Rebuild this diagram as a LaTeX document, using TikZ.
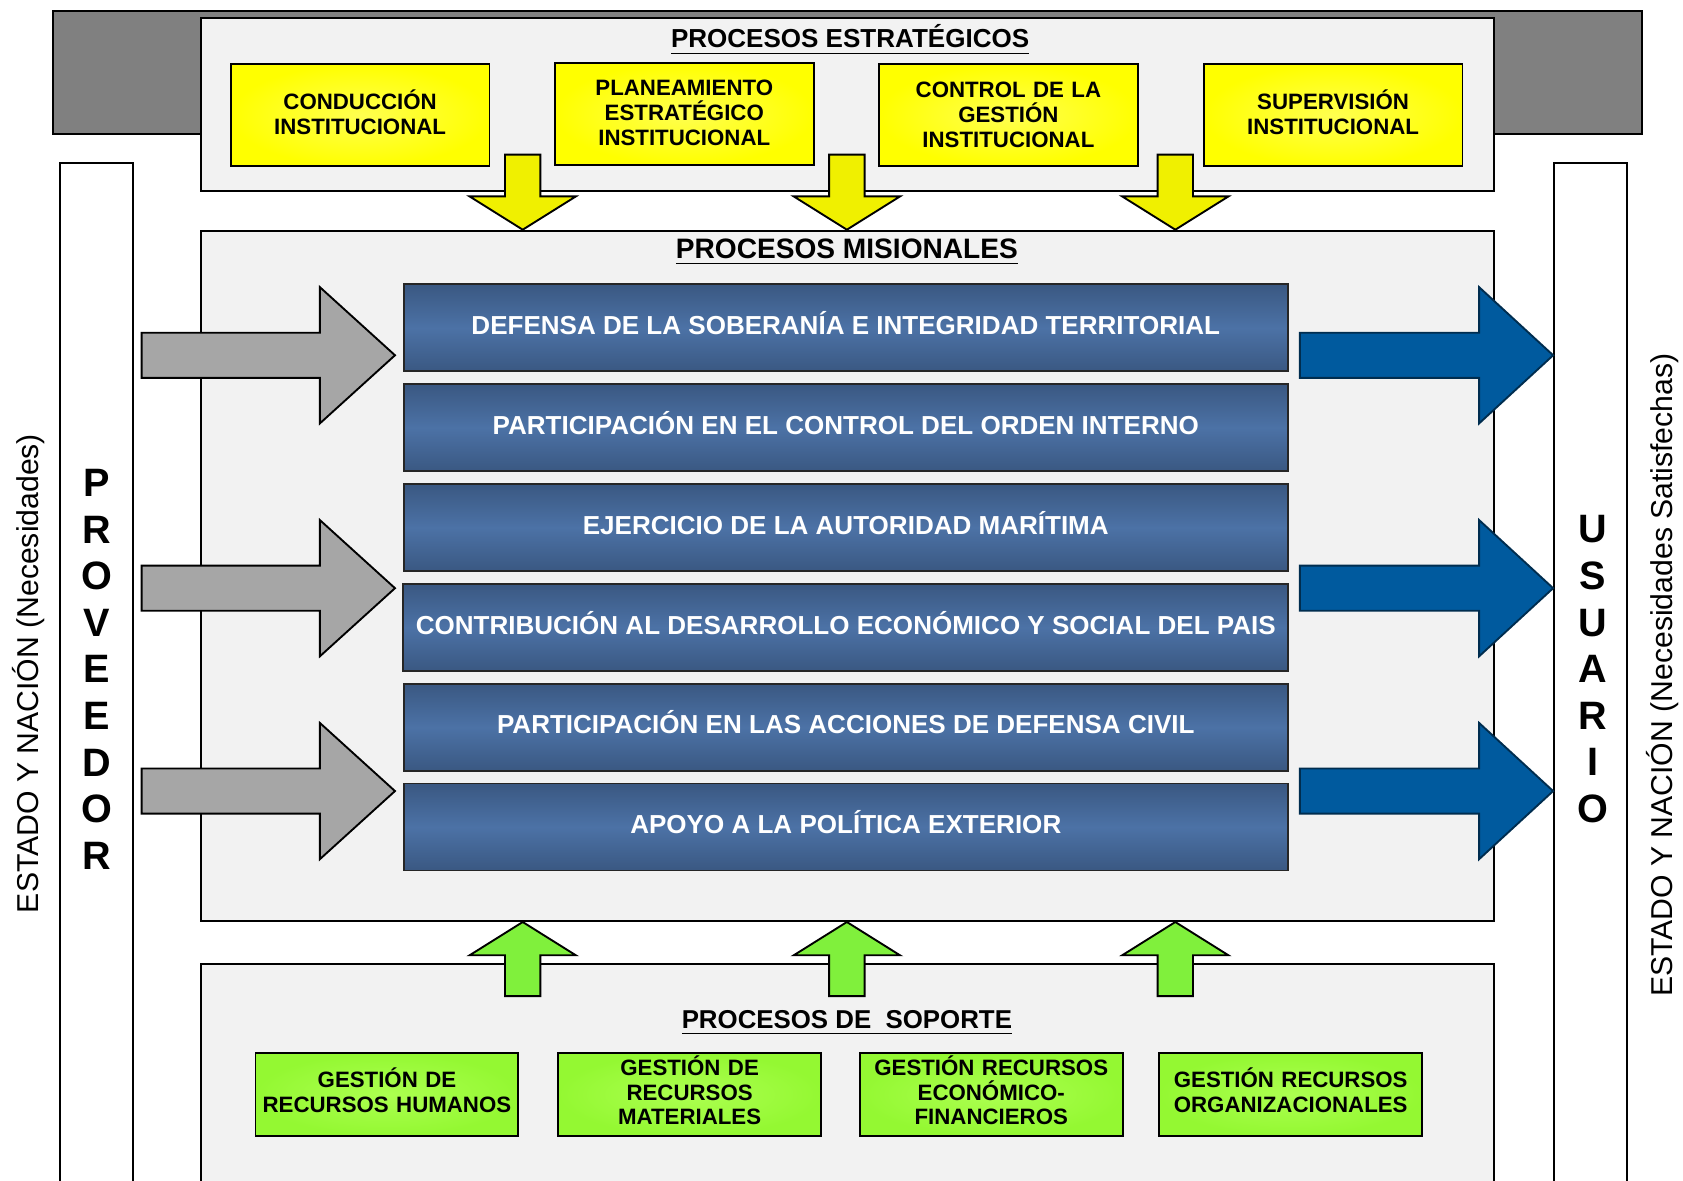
\documentclass[tikz,border=0pt]{standalone}
\usepackage{fontspec}
\setmainfont{Liberation Sans}
\definecolor{banda}{RGB}{128,128,128}
\definecolor{fondo}{RGB}{242,242,242}
\definecolor{amarillo}{RGB}{255,255,0}
\definecolor{amarilloclaro}{RGB}{255,255,80}
\definecolor{flechaam}{RGB}{240,240,0}
\definecolor{gris}{RGB}{166,166,166}
\definecolor{azul}{RGB}{0,90,158}
\definecolor{barraosc}{RGB}{58,88,130}
\definecolor{barraclara}{RGB}{76,114,166}
\definecolor{verde}{RGB}{148,248,50}
\definecolor{verdeclaro}{RGB}{172,255,80}
\definecolor{flechaver}{RGB}{128,240,60}
\begin{document}
\begin{tikzpicture}[x=1cm,y=-1cm,
  outline/.style={draw=#1,line width=0.5pt},
  caja/.style={outline=black,minimum width=2.41cm,minimum height=0.95cm,inner sep=0pt,text width=2.4cm,align=center,text height=3.65pt,font=\fontsize{5.9}{6.65}\selectfont\bfseries},
  estrat/.style={caja,inner color=amarilloclaro,outer color=amarillo},
  soporte/.style={caja,minimum width=2.45cm,minimum height=0.77cm,text height=3.2pt,font=\fontsize{5.9}{6.55}\selectfont\bfseries,inner color=verdeclaro,outer color=verde},
  mision/.style={outline=black!85,top color=barraosc,bottom color=barraosc,middle color=barraclara,minimum width=8.24cm,minimum height=0.81cm,text height=3.6pt,text depth=0pt,text=white,font=\fontsize{6.9}{8}\selectfont\bfseries},
  titulo/.style={font=\fontsize{#1}{8}\selectfont\bfseries},
  letras/.style={align=center,font=\fontsize{10.5}{12.35}\selectfont\bfseries},
  lateral/.style={rotate=90,font=\fontsize{8}{9}\selectfont}]
\useasboundingbox (0,0) rectangle (15.68,11);
% fondo
\fill[fill=banda,outline=black] (0.49,0.10) rectangle (15.30,1.25);
\fill[fill=white,outline=black] (0.56,1.52) rectangle (1.24,11.2);
\fill[fill=white,outline=black] (14.48,1.52) rectangle (15.16,11.2);
\fill[fill=fondo,outline=black] (1.87,0.17) rectangle (13.92,1.78);
\fill[fill=fondo,outline=black] (1.87,2.15) rectangle (13.92,8.58);
\fill[fill=fondo,outline=black] (1.87,8.98) rectangle (13.92,11.2);
% titulos
\node[titulo=6.9] (tEst) at (7.92,0.375) {\underline{PROCESOS ESTRATÉGICOS}};
\node[titulo=7.45] (tMis) at (7.89,2.35) {\underline{PROCESOS MISIONALES}};
\node[titulo=6.85] (tSop) at (7.89,9.53) {\underline{PROCESOS DE\ \ SOPORTE}};
% estrategicos
\node[estrat] (cond) at (3.355,1.075) {CONDUCCIÓN\\INSTITUCIONAL};
\node[estrat] (plan) at (6.375,1.06) {PLANEAMIENTO\\ESTRATÉGICO\\INSTITUCIONAL};
\node[estrat] (ctrl) at (9.395,1.075) {CONTROL DE LA\\GESTIÓN\\INSTITUCIONAL};
\node[estrat] (sup) at (12.42,1.075) {SUPERVISIÓN\\INSTITUCIONAL};
% misionales
\node[mision] (def) at (7.88,3.055) {DEFENSA DE LA SOBERANÍA E INTEGRIDAD TERRITORIAL};
\node[mision] (ord) at (7.88,3.985) {PARTICIPACIÓN EN EL CONTROL DEL ORDEN INTERNO};
\node[mision] (aut) at (7.88,4.915) {EJERCICIO DE LA AUTORIDAD MARÍTIMA};
\node[mision] (des) at (7.88,5.845) {CONTRIBUCIÓN AL DESARROLLO ECONÓMICO Y SOCIAL DEL PAIS};
\node[mision] (civ) at (7.88,6.775) {PARTICIPACIÓN EN LAS ACCIONES DE DEFENSA CIVIL};
\node[mision] (ext) at (7.88,7.705) {APOYO A LA POLÍTICA EXTERIOR};
% soporte
\node[soporte] (rh) at (3.605,10.195) {GESTIÓN DE\\RECURSOS HUMANOS};
\node[soporte] (rm) at (6.425,10.195) {GESTIÓN DE\\RECURSOS\\MATERIALES};
\node[soporte] (ref) at (9.235,10.195) {GESTIÓN RECURSOS\\ECONÓMICO-\\FINANCIEROS};
\node[soporte] (ro) at (12.025,10.195) {GESTIÓN RECURSOS\\ORGANIZACIONALES};
% flechas
\foreach \x in {4.87,7.89,10.95} {
  \fill[fill=flechaam,outline=black] (\x-0.165,1.44) -- (\x+0.165,1.44) -- (\x+0.165,1.83) -- (\x+0.495,1.83) -- (\x,2.14) -- (\x-0.495,1.83) -- (\x-0.165,1.83) -- cycle;
  \fill[fill=flechaver,outline=black] (\x-0.165,9.28) -- (\x+0.165,9.28) -- (\x+0.165,8.90) -- (\x+0.495,8.90) -- (\x,8.59) -- (\x-0.495,8.90) -- (\x-0.165,8.90) -- cycle;
}
\foreach \y in {3.31,5.48,7.37} {
  \fill[fill=gris,outline=black] (1.32,\y-0.21) -- (2.98,\y-0.21) -- (2.98,\y-0.635) -- (3.68,\y) -- (2.98,\y+0.635) -- (2.98,\y+0.21) -- (1.32,\y+0.21) -- cycle;
  \fill[fill=azul,outline=azul!50!black] (12.11,\y-0.21) -- (13.78,\y-0.21) -- (13.78,\y-0.635) -- (14.47,\y) -- (13.78,\y+0.635) -- (13.78,\y+0.21) -- (12.11,\y+0.21) -- cycle;
}
% laterales
\node[letras] (prov) at (0.90,6.235) {P\\R\\O\\V\\E\\E\\D\\O\\R};
\node[letras] (usu) at (14.84,6.235) {U\\S\\U\\A\\R\\I\\O};
\node[lateral] (necL) at (0.27,6.275) {ESTADO Y NACIÓN (Necesidades)};
\node[lateral] (necR) at (15.49,6.29) {ESTADO Y NACIÓN (Necesidades Satisfechas)};
\end{tikzpicture}
\end{document}
